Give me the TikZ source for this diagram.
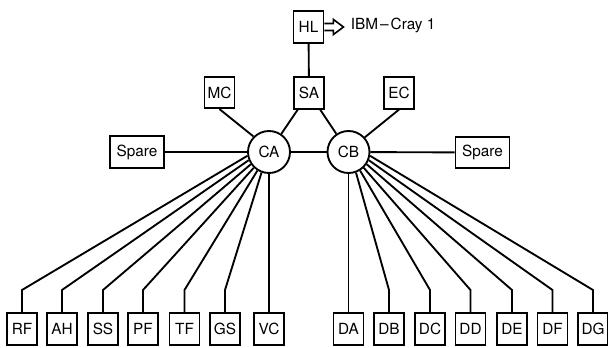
\documentclass[tikz,border=0pt]{standalone}
\usepackage{fontspec}
\setmainfont{TeX Gyre Heros}
\usepackage{tikz}

\begin{document}
\begin{tikzpicture}[x=0.75pt,y=0.75pt,yscale=-1,xscale=1,
  line width=1.4pt,
  unit/.style={draw,rectangle,inner sep=0.75pt,minimum width=22.5pt,minimum height=23.5pt,font=\fontsize{11.5}{12}\selectfont},
  spareunit/.style={unit,minimum width=40.5pt},
  hub/.style={draw,circle,inner sep=0.75pt,minimum size=31.5pt,font=\fontsize{11.5}{12}\selectfont}]
%set diagram left start at 0, and has height of 347
\useasboundingbox (0,0) rectangle (608,347);

% Hubs
\node [hub] (CA) at (269,152) {CA};
\node [hub] (CB) at (348.5,152) {CB};

% Upper units
\node [unit] (HL) at (308.5,27) {HL};
\node [unit] (SA) at (309,93) {SA};
\node [unit] (MC) at (219.5,92.5) {MC};
\node [unit] (EC) at (399,93) {EC};
\node [spareunit] (spareA) at (137,152) {Spare};
\node [spareunit] (spareB) at (482.5,152.5) {Spare};

% Text Node
\node [anchor=west,inner sep=0.75pt,font=\fontsize{11.5}{12}\selectfont] (cray) at (349,25) {IBM\kern1.5pt--\kern1.5pt Cray 1};

% Lower units, CA side
\node [unit] (RF) at (22,329) {RF};
\node [unit] (AH) at (62,329) {AH};
\node [unit] (SS) at (103,329) {SS};
\node [unit] (PF) at (143,329) {PF};
\node [unit] (TF) at (184.5,329) {TF};
\node [unit] (GS) at (225,329) {GS};
\node [unit] (VC) at (269,329) {VC};

% Lower units, CB side
\node [unit] (DA) at (348.5,329) {DA};
\node [unit] (DB) at (389,329) {DB};
\node [unit] (DC) at (430,329) {DC};
\node [unit] (DD) at (470.5,329) {DD};
\node [unit] (DE) at (512,329) {DE};
\node [unit] (DF) at (552.5,329) {DF};
\node [unit] (DG) at (593,329) {DG};

% Block arrow
\draw [line width=1.2pt] (HL.east) ++(0,-3.5) -- ++(9,0) -- ++(0,-4) -- ++(10,7.5) -- ++(-10,7.5) -- ++(0,-4) -- ++(-9,0) ;

%Straight Lines
\draw (HL) -- (SA) ;
\draw (SA) -- (CA) ;
\draw (SA) -- (CB) ;
\draw (MC.south) -- (CA.135) ;
\draw (EC.south) -- (CB.42) ;
\draw (spareA) -- (CA) ;
\draw (CA) -- (CB) ;
\draw (CB) -- (spareB) ;

%Fan lines, CA side
\draw (CA.190) -- (22,290) -- (RF) ;
\draw (CA.202) -- (62,290) -- (AH) ;
\draw (CA.214) -- (103,290) -- (SS) ;
\draw (CA.226) -- (143,290) -- (PF) ;
\draw (CA.238) -- (184.5,290) -- (TF) ;
\draw (CA.250) -- (225,290) -- (GS) ;
\draw (CA) -- (VC) ;

%Fan lines, CB side
\draw (CB) -- (DA) ;
\draw (CB.290) -- (389,290) -- (DB) ;
\draw (CB.302) -- (430,290) -- (DC) ;
\draw (CB.314) -- (470.5,290) -- (DD) ;
\draw (CB.326) -- (512,290) -- (DE) ;
\draw (CB.338) -- (552.5,290) -- (DF) ;
\draw (CB.350) -- (593,290) -- (DG) ;

\end{tikzpicture}
\end{document}
